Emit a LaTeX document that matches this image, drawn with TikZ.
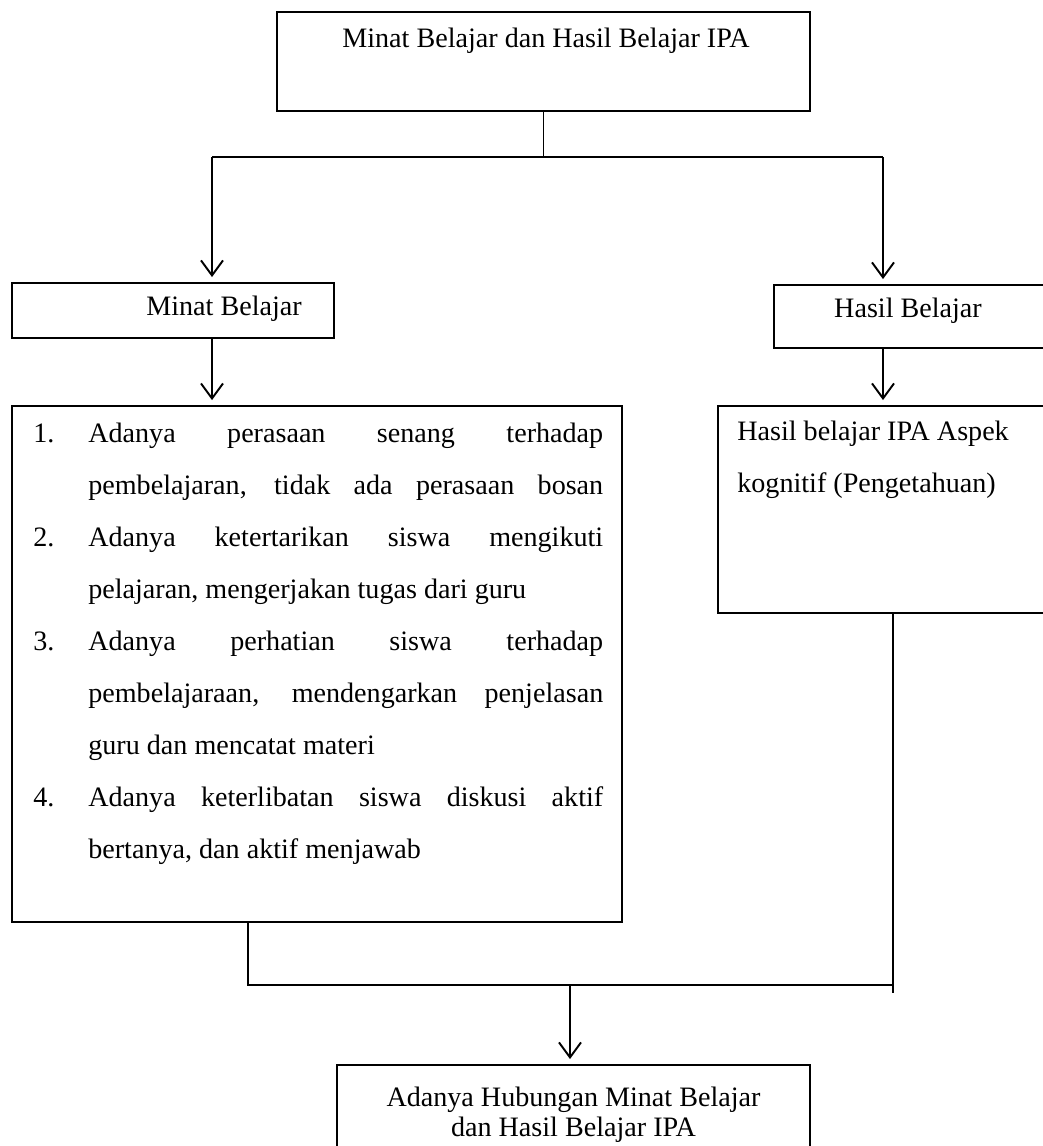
\documentclass[tikz,border=0pt]{standalone}
\usepackage{fontspec}
\setmainfont{Liberation Serif}
\usetikzlibrary{arrows.meta,positioning}
\newcommand{\fillline}[1]{\makebox[10.3cm][s]{#1}}
\newcommand{\itemno}[1]{\makebox[1.1cm][l]{#1}}
\begin{document}
\begin{tikzpicture}[x=0.02cm, y=-0.02cm,
  frame/.style={draw, line width=1.1pt, inner sep=0pt},
  txt/.style={inner sep=0pt, font=\fontsize{16}{19}\selectfont},
  link/.style={line width=1.1pt},
  arr/.style={link, -{Straight Barb[length=0.3cm, width=0.44cm, line width=1.1pt]}, shorten >=0.1cm}]
  \useasboundingbox (0,0) rectangle (1043,1146);
  \clip (0,0) rectangle (1043,1146);

  % boxes
  \node[frame, minimum width=10.66cm, minimum height=1.98cm] (top) at (543.5,61.5) {};
  \node[frame, minimum width=6.44cm, minimum height=1.1cm] (minat) at (173,310.5) {};
  \node[frame, minimum width=5.44cm, minimum height=1.26cm] (hasil) at (910,316.5) {};
  \node[frame, minimum width=12.2cm, minimum height=10.32cm] (list) at (317,664) {};
  \node[frame, minimum width=6.56cm, minimum height=4.14cm] (detail) at (882,509.5) {};
  \node[frame, minimum width=9.46cm, minimum height=2.1cm] (result) at (573.5,1117.5) {};

  % texts
  \node[txt, anchor=base west] (top text) at (342,47) {Minat Belajar dan Hasil Belajar IPA};
  \node[txt, anchor=base west] (minat text) at (146,315) {Minat Belajar};
  \node[txt, anchor=base] (hasil text) at (908,317) {Hasil Belajar};
  \node[txt, anchor=base west, font=\fontsize{16}{29.6}\selectfont] (list text) at (33,442) {\parbox[t]{11.5cm}{%
    \itemno{1.}\fillline{Adanya perasaan senang terhadap}\\
    \hspace*{1.1cm}\fillline{pembelajaran, tidak ada perasaan bosan}\\
    \itemno{2.}\fillline{Adanya ketertarikan siswa mengikuti}\\
    \hspace*{1.1cm}pelajaran, mengerjakan tugas dari guru\\
    \itemno{3.}\fillline{Adanya perhatian siswa terhadap}\\
    \hspace*{1.1cm}\fillline{pembelajaraan, mendengarkan penjelasan}\\
    \hspace*{1.1cm}guru dan mencatat materi\\
    \itemno{4.}\fillline{Adanya keterlibatan siswa diskusi aktif}\\
    \hspace*{1.1cm}bertanya, dan aktif menjawab}};
  \node[txt, anchor=base west, font=\fontsize{16}{29.6}\selectfont] (detail text) at (737,440) {\parbox[t]{6cm}{%
    Hasil belajar IPA Aspek\\
    kognitif (Pengetahuan)}};
  \node[txt, anchor=base, font=\fontsize{16}{17.6}\selectfont] (result text) at (573.5,1106) {\parbox[t]{9cm}{\centering
    Adanya Hubungan Minat Belajar\\
    dan Hasil Belajar IPA}};

  % connectors
  \coordinate (fork l) at (212,157);
  \coordinate (fork r) at (883,157);
  \draw[link] (top.south) -- (top.south |- fork l);
  \draw[link] (fork l) -- (fork r);
  \draw[arr] (fork l) -- (fork l |- minat.north);
  \draw[arr] (fork r) -- (fork r |- hasil.north);
  \draw[arr] (fork l |- minat.south) -- (fork l |- list.north);
  \draw[arr] (fork r |- hasil.south) -- (fork r |- detail.north);

  \coordinate (join l) at (248,985);
  \coordinate (join m) at (570,985);
  \coordinate (join r) at (893,985);
  \coordinate (join end) at (893,993);
  \draw[link] (join l |- list.south) -- (join l) -- (join r);
  \draw[link] (join r |- detail.south) -- (join end);
  \draw[arr] (join m) -- (join m |- result.north);
\end{tikzpicture}
\end{document}
